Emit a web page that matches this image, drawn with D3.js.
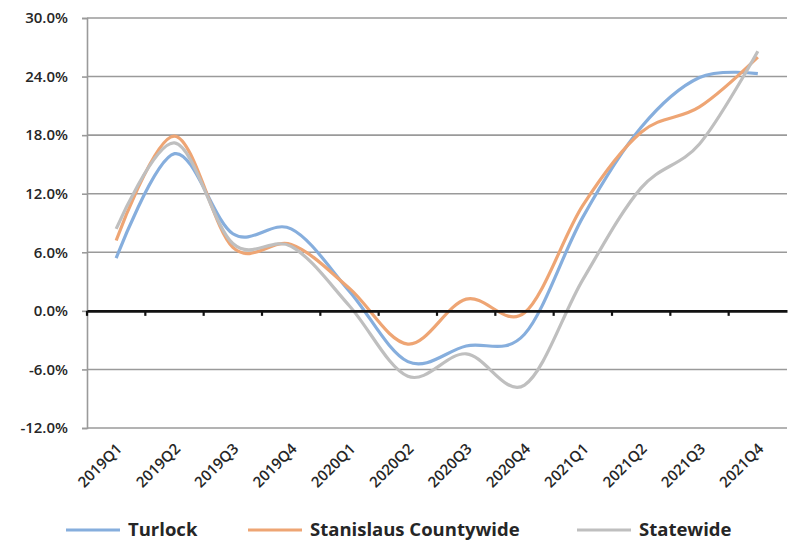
<!DOCTYPE html>
<html>
<head>
<meta charset="utf-8">
<script src="https://cdn.jsdelivr.net/npm/d3@7"></script>
<style>
  html, body { margin: 0; padding: 0; background: #fff; overflow: hidden; }
  svg { display: block; }
  svg text { font-family: "Open Sans", "Liberation Sans", sans-serif; fill: #262626; }
</style>
</head>
<body>
<div id="chart"></div>
<script>
const quarters = ["2019Q1", "2019Q2", "2019Q3", "2019Q4", "2020Q1", "2020Q2",
  "2020Q3", "2020Q4", "2021Q1", "2021Q2", "2021Q3", "2021Q4"];
const turlock = [5.4, 16.1, 7.9, 8.4, 2.0, -5.2, -3.6, -2.4, 9.6, 18.8, 23.9, 24.3];
const stanislaus = [7.2, 17.9, 6.5, 6.8, 2.3, -3.4, 1.2, -0.2, 10.8, 18.3, 20.9, 26.0];
const statewide = [8.4, 17.2, 6.9, 6.6, 0.5, -6.7, -4.4, -7.6, 3.2, 12.6, 17.1, 26.6];
const yTicks = [-12, -6, 0, 6, 12, 18, 24, 30];

const series = [
  { name: "Turlock", values: turlock, color: "#86aedd" },
  { name: "Stanislaus Countywide", values: stanislaus, color: "#eea574" },
  { name: "Statewide", values: statewide, color: "#bfbfbf" }
];

const width = 792, height = 542;
const margin = { top: 18, right: 5, bottom: 114, left: 87 };
const innerWidth = width - margin.left - margin.right;
const innerHeight = height - margin.top - margin.bottom;

const svg = d3.select("#chart").append("svg")
  .attr("width", width).attr("height", height);
const g = svg.append("g")
  .attr("transform", `translate(${margin.left},${margin.top})`);

const x = d3.scaleBand().domain(quarters).range([0, innerWidth]);
const y = d3.scaleLinear().domain([-12, 30]).range([innerHeight, 0]);

// gridlines
g.selectAll(".grid").data(yTicks.filter(d => d !== 0)).join("line")
  .attr("x1", 0).attr("x2", innerWidth)
  .attr("y1", d => y(d)).attr("y2", d => y(d))
  .attr("stroke", "#9a9a9a").attr("stroke-width", 1.6);

// y axis
const yAxis = g.append("g")
  .call(d3.axisLeft(y).tickValues(yTicks).tickSize(5).tickPadding(14)
    .tickFormat(d => (d < 0 ? "-" : "") + Math.abs(d).toFixed(1) + "%"));
yAxis.select(".domain").attr("stroke", "#9a9a9a").attr("stroke-width", 1.6);
yAxis.selectAll(".tick line").attr("stroke", "#9a9a9a").attr("stroke-width", 1.6);
yAxis.selectAll("text").style("font-size", "15px").style("font-weight", 600).attr("fill", "#262626");

// lines
const line = d3.line()
  .x((d, i) => x(quarters[i]) + x.bandwidth() / 2)
  .y(d => y(d))
  .curve(d3.curveCardinal.tension(0));

g.selectAll(".series").data(series).join("path")
  .attr("d", d => line(d.values))
  .attr("fill", "none")
  .attr("stroke", d => d.color)
  .attr("stroke-width", 3.2)
  .attr("stroke-linejoin", "round");

// zero axis with ticks between categories
const xAxis = g.append("g")
  .attr("transform", `translate(0,${y(0)})`)
  .call(d3.axisBottom(x).tickSize(0).tickFormat(""));
xAxis.select(".domain").attr("stroke", "#111").attr("stroke-width", 2.6);
xAxis.selectAll(".tick").remove();
g.append("g").selectAll("line").data(quarters).join("line")
  .attr("x1", d => x(d)).attr("x2", d => x(d))
  .attr("y1", y(0)).attr("y2", y(0) + 5)
  .attr("stroke", "#111").attr("stroke-width", 2.2);

// x labels at the bottom, rotated
g.append("g").selectAll("text").data(quarters).join("text")
  .attr("transform", d => `translate(${x(d) + x.bandwidth() / 2 + 3},${innerHeight + 18}) rotate(-45)`)
  .attr("text-anchor", "end")
  .attr("dy", "0.35em")
  .style("font-size", "15px")
  .style("font-weight", 600)
  .text(d => d);

// legend
const legendX = [66, 248, 577];
const legend = svg.append("g").selectAll("g").data(series).join("g")
  .attr("transform", (d, i) => `translate(${legendX[i]},530)`);
legend.append("line")
  .attr("x1", 0).attr("x2", 54)
  .attr("stroke", d => d.color).attr("stroke-width", 3.2);
legend.append("text")
  .attr("x", 62).attr("dy", "0.35em")
  .style("font-size", "18.5px").style("font-weight", 700)
  .text(d => d.name);
</script>
</body>
</html>
